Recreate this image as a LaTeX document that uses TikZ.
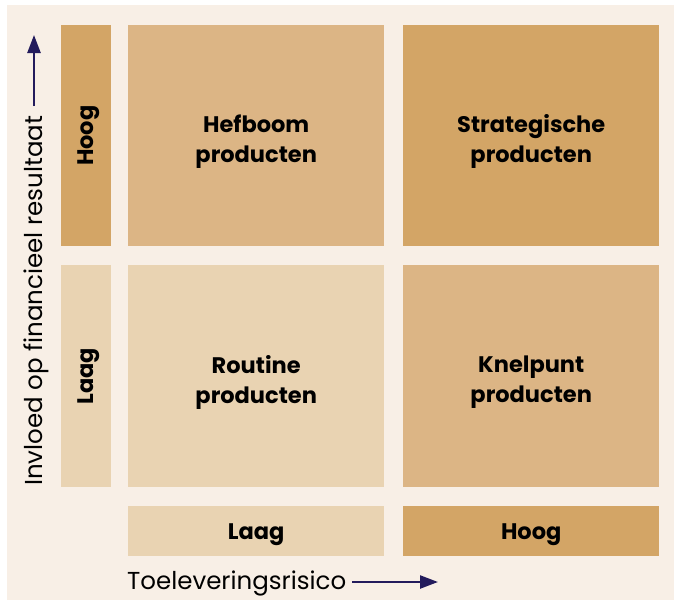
\documentclass[tikz,border=0pt]{standalone}
\usepackage{fontspec}
\setmainfont{Poppins}
\usetikzlibrary{arrows.meta}
\definecolor{bgc}{HTML}{F8EFE6}
\definecolor{darkc}{HTML}{D3A566}
\definecolor{midc}{HTML}{DCB585}
\definecolor{lightc}{HTML}{E9D3B2}
\definecolor{arrc}{HTML}{231B5C}
\begin{document}
\begin{tikzpicture}[x=1pt,y=-1pt,
  cell/.style={draw=none,inner sep=0pt,anchor=north west},
  celltext/.style={align=center,inner sep=0pt,
    font=\fontsize{22.5}{30}\selectfont\bfseries},
  sidetext/.style={rotate=90,inner sep=0pt,font=\fontsize{22.5}{26}\selectfont\bfseries},
  axlab/.style={font=\fontsize{24.5}{28}\selectfont},
  arr/.style={draw=arrc,line width=2.4pt,-{Triangle[length=18pt,width=13pt]}}]
\useasboundingbox (0,0) rectangle (674,600);
\fill[bgc] (7,5) rectangle (674,600);
% quadrants
\node[cell,fill=midc,minimum width=256pt,minimum height=221pt] (hef) at (128,25) {};
\node[cell,fill=darkc,minimum width=256pt,minimum height=221pt] (str) at (403,25) {};
\node[cell,fill=lightc,minimum width=256pt,minimum height=222pt] (rou) at (128,265) {};
\node[cell,fill=midc,minimum width=256pt,minimum height=222pt] (kne) at (403,265) {};
\node[celltext] (heft) at ([yshift=-6pt]hef.center) {Hefboom\\producten};
\node[celltext] (strt) at ([yshift=-6pt]str.center) {Strategische\\producten};
\node[celltext] (rout) at ([yshift=-6pt]rou.center) {Routine\\producten};
\node[celltext] (knet) at ([yshift=-6pt]kne.center) {Knelpunt\\producten};
% left axis boxes
\node[cell,fill=darkc,minimum width=50pt,minimum height=221pt] (lh) at (61,25) {};
\node[cell,fill=lightc,minimum width=50pt,minimum height=222pt] (ll) at (61,265) {};
\node[sidetext] (lht) at ([xshift=2pt]lh.center) {Hoog};
\node[sidetext] (llt) at ([xshift=2pt]ll.center) {Laag};
% bottom axis boxes
\node[cell,fill=lightc,minimum width=256pt,minimum height=50pt] (bl) at (128,506) {};
\node[cell,fill=darkc,minimum width=256pt,minimum height=50pt] (bh) at (403,506) {};
\node[celltext] (blt) at ([yshift=-3pt]bl.center) {Laag};
\node[celltext] (bht) at ([yshift=-3pt]bh.center) {Hoog};
% axis titles
\node[axlab,anchor=base west,inner sep=0pt] (xt) at (127,589) {Toeleveringsrisico};
\coordinate (xa) at (352,582);
\coordinate (xb) at (438,582);
\draw[arr] (xa) -- (xb);
\node[axlab,rotate=90,anchor=base west,inner sep=0pt] (yt) at (42,486) {Invloed op financieel resultaat};
\coordinate (ya) at (34,106);
\coordinate (yb) at (34,35);
\draw[arr] (ya) -- (yb);
\end{tikzpicture}
\end{document}
